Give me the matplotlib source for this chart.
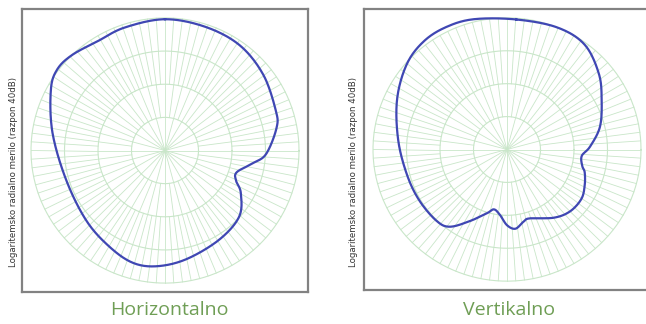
import numpy as np
import matplotlib.pyplot as plt

# polar patterns, normalised radius (1.0 = 0 dB, 0.0 = -40 dB), angle in degrees
horiz_deg = [90, 72, 55, 38, 20, 11.6, -2, -8.5, -17, -23, -29.5, -42, -59, -79,
             -94, -106, -120, -138, -163, -189, -208, -217, -226, -239, -252]
horiz_r = [0.99, 0.98, 0.97, 0.93, 0.88, 0.85, 0.755, 0.66, 0.56, 0.575, 0.65,
           0.745, 0.785, 0.835, 0.875, 0.88, 0.835, 0.79, 0.77, 0.85, 0.965,
           1.01, 1.0, 0.965, 0.975]

vert_deg = [86, 68, 54, 40, 28, 14, 2, -5, -12.5, -16.6, -25, -34, -45, -56, -72,
            -77, -84, -90, -96, -102, -107, -117, -126, -134, -149, -165, -185,
            -205, -221, -233, -244, -256]
vert_r = [0.99, 1.0, 0.985, 0.895, 0.80, 0.715, 0.62, 0.56, 0.575, 0.605, 0.64,
          0.67, 0.665, 0.625, 0.55, 0.56, 0.605, 0.575, 0.50, 0.465, 0.505, 0.61,
          0.725, 0.755, 0.76, 0.77, 0.815, 0.905, 0.99, 1.03, 1.035, 1.02]

titles = ["Horizontalno", "Vertikalno"]
ylabel = "Logaritemsko radialno merilo (razpon 40dB)"

grid_col = "#c9e6c9"
line_col = "#3f47b3"
title_col = "#6f9e55"


def closed_curve(deg, r, steps=20):
    # Catmull-Rom through the traced points, closed loop
    th = np.radians(np.array(deg, dtype=float))
    r = np.array(r, dtype=float)
    px, py = r * np.cos(th), r * np.sin(th)
    n = len(px)
    xs, ys = [], []
    u = np.linspace(0, 1, steps, endpoint=False)
    for i in range(n):
        p0 = np.array([px[i - 1], py[i - 1]])
        p1 = np.array([px[i], py[i]])
        p2 = np.array([px[(i + 1) % n], py[(i + 1) % n]])
        p3 = np.array([px[(i + 2) % n], py[(i + 2) % n]])
        for t in u:
            pt = 0.5 * ((2 * p1) + (-p0 + p2) * t + (2 * p0 - 5 * p1 + 4 * p2 - p3) * t ** 2
                        + (-p0 + 3 * p1 - 3 * p2 + p3) * t ** 3)
            xs.append(pt[0])
            ys.append(pt[1])
    xs.append(xs[0])
    ys.append(ys[0])
    return np.array(xs), np.array(ys)


def draw_grid(ax):
    t = np.linspace(0, 2 * np.pi, 400)
    for rad in [0.25, 0.5, 0.75, 1.0]:
        ax.plot(rad * np.cos(t), rad * np.sin(t), color=grid_col, lw=0.8, zorder=1)
    for n, r0, r1 in [(24, 0.0, 0.25), (48, 0.25, 0.5), (96, 0.5, 1.0)]:
        for a in np.linspace(0, 2 * np.pi, n, endpoint=False):
            ax.plot([r0 * np.cos(a), r1 * np.cos(a)], [r0 * np.sin(a), r1 * np.sin(a)],
                    color=grid_col, lw=0.6, zorder=1)


fig = plt.figure(figsize=(6.46, 3.24), dpi=100)
positions = [[22 / 646, 32 / 324, 286 / 646, 283 / 324],
             [364 / 646, 34 / 324, 286 / 646, 281 / 324]]
data = [(horiz_deg, horiz_r), (vert_deg, vert_r)]
label_x = [14 / 646, 353 / 646]
title_x = [169 / 646, 509 / 646]

for i in range(2):
    ax = fig.add_axes(positions[i])
    draw_grid(ax)
    x, y = closed_curve(*data[i])
    ax.plot(x, y, color=line_col, lw=1.6, zorder=3)
    lim = 143 / 134
    ax.set_xlim(-lim, lim)
    ax.set_ylim(-lim, lim)
    ax.set_xticks([])
    ax.set_yticks([])
    for s in ax.spines.values():
        s.set_color("#828282")
        s.set_linewidth(1.6)
    fig.text(label_x[i], 152 / 324, ylabel, rotation=90, ha="center", va="center",
             fontsize=6.2, color="#333333")
    fig.text(title_x[i], 1 - 310 / 324, titles[i], ha="center", va="center",
             fontsize=14, color=title_col, family="Open Sans")

fig.savefig("out.png", dpi=100)
